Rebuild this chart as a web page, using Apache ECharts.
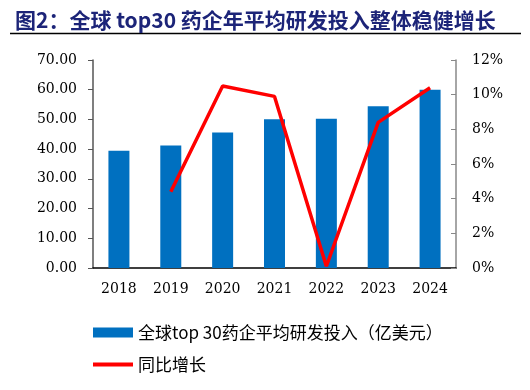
<!DOCTYPE html>
<html><head><meta charset="utf-8">
<script src="https://cdn.jsdelivr.net/npm/echarts@6/dist/echarts.min.js"></script>
<style>html,body{margin:0;padding:0;background:#fff}#c{width:530px;height:390px}</style>
</head><body><div id="c"></div>
<script>
var titleText = '图2：全球 top30 药企年平均研发投入整体稳健增长';
var categories = ['2018','2019','2020','2021','2022','2023','2024'];
var barName = '全球top 30药企平均研发投入（亿美元）';
var lineName = '同比增长';
var barValues = [39.5, 41.2, 45.6, 50.1, 50.2, 54.4, 60.0];
var growthValues = [null, 4.4, 10.5, 9.9, 0.1, 8.4, 10.4];
var leftTicks = [0, 10, 20, 30, 40, 50, 60, 70];
var rightTicks = [0, 2, 4, 6, 8, 10, 12];

var chart = echarts.init(document.getElementById('c'), null, {renderer:'canvas'});
var serif = 'DejaVu Serif';
var cjk = 'Noto Sans CJK SC';
chart.setOption({
  animation: false,
  title: {text: titleText, left: 10, top: 5,
    textStyle: {fontFamily: cjk, fontSize: 21, fontWeight: 'bold', color: '#1c2478'}},
  graphic: [{type:'line', shape:{x1:10, y1:33.5, x2:521, y2:33.5}, style:{stroke:'#000', lineWidth:1.5}}],
  grid: {left: 93, right: 74, top: 60, bottom: 122},
  legend: [
    {data:[{name: barName, icon:'rect'}], left: 88, top: 319, itemWidth: 40, itemHeight: 10, itemGap: 0,
      textStyle:{fontFamily: cjk, fontSize: 17, color:'#000'}},
    {data:[{name: lineName, icon:'rect'}], left: 88, top: 351, itemWidth: 40, itemHeight: 4,
      textStyle:{fontFamily: cjk, fontSize: 17, color:'#000'}}
  ],
  xAxis: {type:'category', data: categories,
    axisLine:{lineStyle:{color:'#000', width:1.5}},
    axisTick:{inside:true, length:5, lineStyle:{color:'#444'}},
    axisLabel:{fontFamily: serif, fontSize: 14, color:'#000', margin: 14}},
  yAxis: [
    {type:'value', min: leftTicks[0], max: leftTicks[leftTicks.length-1], interval: 10,
      axisLine:{show:true, lineStyle:{color:'#555', width:1.5}},
      axisTick:{show:true, length:5, lineStyle:{color:'#555'}},
      splitLine:{show:false},
      axisLabel:{fontFamily: serif, fontSize: 14, color:'#000', margin: 16,
        formatter: function(v){return v.toFixed(2);}}},
    {type:'value', min: rightTicks[0], max: rightTicks[rightTicks.length-1], interval: 2, position:'right',
      axisLine:{show:true, lineStyle:{color:'#888', width:1.5}},
      axisTick:{show:true, inside:true, length:5, lineStyle:{color:'#888'}},
      splitLine:{show:false},
      axisLabel:{fontFamily: serif, fontSize: 14, color:'#000', margin: 16,
        formatter: function(v){return v + '%';}}}
  ],
  series: [
    {name: barName, type:'bar', data: barValues, barWidth: 21, yAxisIndex: 0,
      itemStyle:{color:'#0070C0'}},
    {name: lineName, type:'line', data: growthValues, yAxisIndex: 1, showSymbol:false, symbol:'none',
      lineStyle:{color:'#FF0000', width:3.5}, itemStyle:{color:'#FF0000'}}
  ]
});
</script></body></html>
